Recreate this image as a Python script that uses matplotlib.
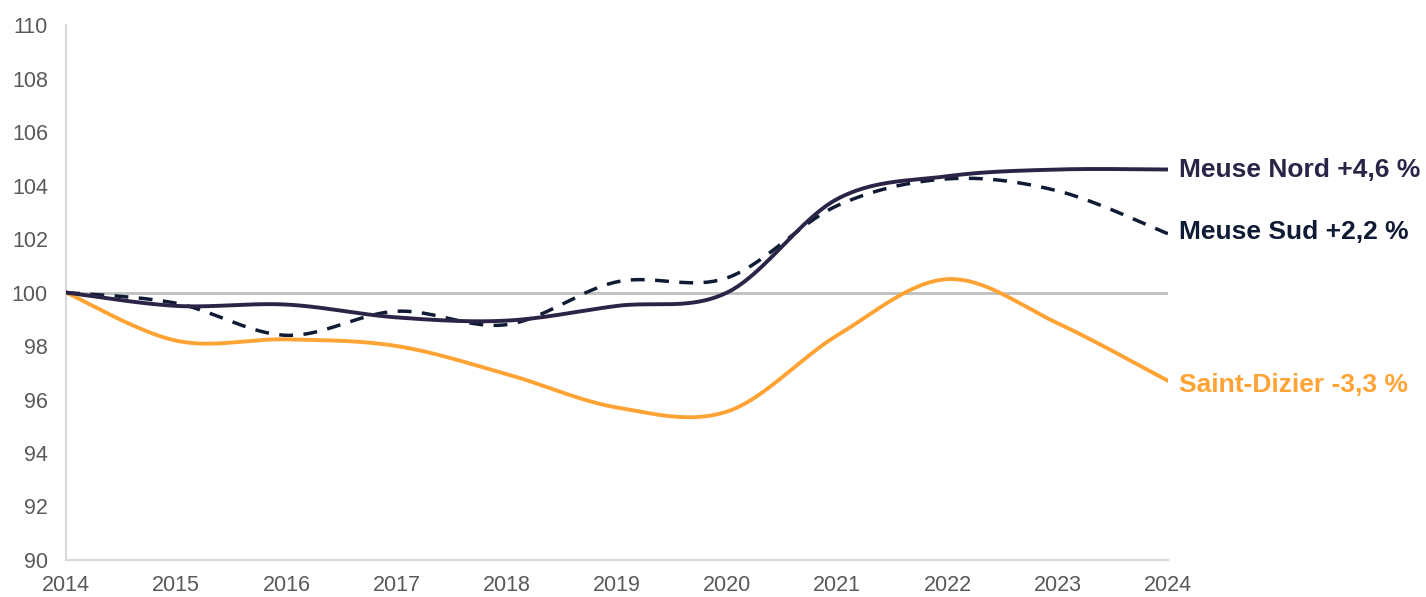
import numpy as np
import matplotlib
matplotlib.use("Agg")
import matplotlib.pyplot as plt

plt.rcParams['font.family'] = ['Liberation Sans', 'DejaVu Sans']

years = [2014, 2015, 2016, 2017, 2018, 2019, 2020, 2021, 2022, 2023, 2024]
meuse_nord = [100, 99.5, 99.55, 99.07, 98.95, 99.5, 100.0, 103.5, 104.35, 104.6, 104.6]
meuse_sud = [100, 99.6, 98.4, 99.3, 98.8, 100.4, 100.55, 103.25, 104.25, 103.8, 102.2]
saint_dizier = [100, 98.2, 98.25, 98.0, 96.95, 95.7, 95.55, 98.4, 100.5, 98.85, 96.7]

labels = ["Meuse Nord +4,6 %", "Meuse Sud +2,2 %", "Saint-Dizier -3,3 %"]
yticks = list(range(90, 111, 2))


def lisse(x, y, n=40):
    # courbe lissée façon Excel (Bezier / Catmull-Rom)
    x = np.asarray(x, float)
    y = np.asarray(y, float)
    px = np.concatenate([[x[0]], x, [x[-1]]])
    py = np.concatenate([[y[0]], y, [y[-1]]])
    t = np.linspace(0, 1, n)[:, None]
    xs, ys = [], []
    for i in range(1, len(px) - 2):
        p0 = np.array([px[i], py[i]])
        p3 = np.array([px[i + 1], py[i + 1]])
        p1 = p0 + (p3 - np.array([px[i - 1], py[i - 1]])) / 6
        p2 = p3 - (np.array([px[i + 2], py[i + 2]]) - p0) / 6
        b = (1 - t) ** 3 * p0 + 3 * (1 - t) ** 2 * t * p1 + 3 * (1 - t) * t ** 2 * p2 + t ** 3 * p3
        xs.append(b[:, 0])
        ys.append(b[:, 1])
    return np.concatenate(xs), np.concatenate(ys)


fig = plt.figure(figsize=(14.26, 5.97), dpi=100)
ax = fig.add_axes([0.0463, 0.062, 0.7727, 0.896])

ax.axhline(100, color="#bfbfbf", lw=2, zorder=1)

c_nord = "#2b2447"
c_sud = "#0f1b35"
c_sd = "#ffa334"

x, y = lisse(years, saint_dizier)
ax.plot(x, y, color=c_sd, lw=2.8, zorder=2, solid_capstyle="round")
x, y = lisse(years, meuse_sud)
ax.plot(x, y, color=c_sud, lw=2.5, ls=(0, (4, 3)), zorder=3)
x, y = lisse(years, meuse_nord)
ax.plot(x, y, color=c_nord, lw=2.8, zorder=4, solid_capstyle="round")

ax.text(2024.1, meuse_nord[-1], labels[0], color=c_nord, fontsize=19,
        fontweight="bold", va="center", ha="left")
ax.text(2024.1, meuse_sud[-1] + 0.05, labels[1], color=c_sud, fontsize=19,
        fontweight="bold", va="center", ha="left")
ax.text(2024.1, saint_dizier[-1] - 0.15, labels[2], color=c_sd, fontsize=19,
        fontweight="bold", va="center", ha="left")

ax.set_xlim(2014, 2024)
ax.set_ylim(90, 110)
ax.set_xticks(years)
ax.set_yticks(yticks)
ax.tick_params(length=0, labelsize=15.5, labelcolor="#595959")
ax.tick_params(axis="y", pad=13)
ax.tick_params(axis="x", pad=11)
for s in ["top", "right"]:
    ax.spines[s].set_visible(False)
for s in ["left", "bottom"]:
    ax.spines[s].set_color("#d9d9d9")
    ax.spines[s].set_linewidth(1.5)

fig.savefig("out.png", dpi=100)
